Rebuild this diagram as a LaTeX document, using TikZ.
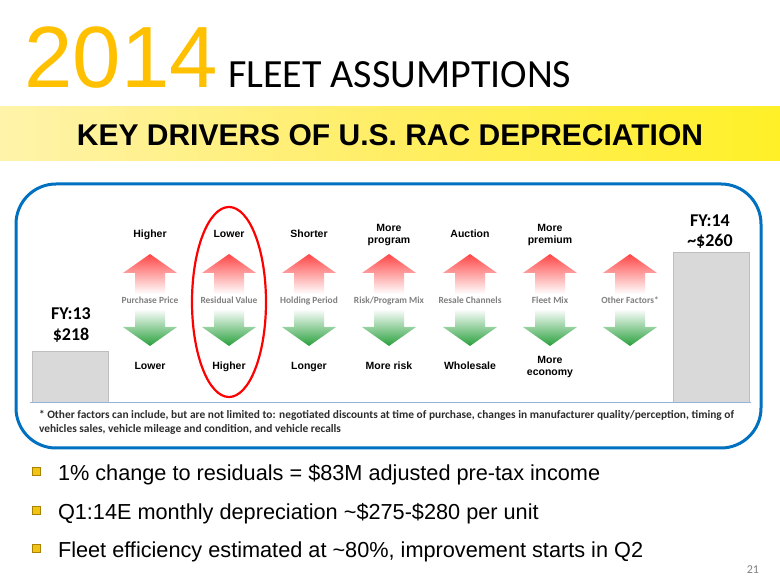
\documentclass[tikz,border=0pt]{standalone}
\usepackage{fontspec}
\setmainfont{Liberation Sans}
\newfontfamily\calfont{Carlito}
\usetikzlibrary{shapes.geometric,shadows}
\definecolor{gold}{RGB}{255,192,0}
\definecolor{panelblue}{RGB}{0,112,192}
\definecolor{bargray}{RGB}{217,217,217}
\definecolor{baredge}{RGB}{190,190,190}
\definecolor{sepline}{RGB}{149,179,215}
\definecolor{upred}{RGB}{255,70,70}
\definecolor{downgreen}{RGB}{40,160,60}
\definecolor{midgray}{RGB}{128,128,128}
\definecolor{notegray}{RGB}{45,45,45}
\definecolor{bandleft}{RGB}{255,243,170}
\definecolor{bandright}{RGB}{255,240,40}
\definecolor{bulletgold}{RGB}{240,196,20}
\definecolor{bulletedge}{RGB}{170,130,0}
\begin{document}
\begin{tikzpicture}[x=1pt,y=-1pt,
  txt/.style={inner sep=0pt,outer sep=0pt},
  colhead/.style={txt,align=center,font=\bfseries\fontsize{10.5}{12.5}\selectfont},
  colmid/.style={txt,anchor=base,font=\calfont\bfseries\fontsize{9.4}{11}\selectfont,text=midgray},
  fybar/.style={draw=baredge,fill=bargray,line width=0.6pt},
  fylabel/.style={txt,align=center,font=\calfont\bfseries\fontsize{18}{20.5}\selectfont},
  bullettxt/.style={txt,anchor=base west,font=\fontsize{21.7}{24}\selectfont},
  bulletbox/.style={draw=bulletedge,fill=bulletgold,line width=0.4pt,minimum size=8pt,inner sep=0pt,
    drop shadow={shadow xshift=1pt,shadow yshift=-1pt,opacity=0.5}},
  note/.style={txt,anchor=base west,font=\calfont\bfseries\fontsize{11.4}{13}\selectfont,text=notegray}]
\useasboundingbox (0,0) rectangle (780,585);
\fill[white] (0,0) rectangle (780,585);

% heading
\node[txt,anchor=base west,text=gold,font=\fontsize{87}{90}\selectfont] (year) at (24.5,88) {2014};
\node[txt,anchor=base west,font=\calfont\fontsize{40}{44}\selectfont] (fleet) at (228,88) {FLEET ASSUMPTIONS};

% yellow band
\shade[left color=bandleft,right color=bandright,middle color={rgb,255:red,255;green,238;blue,100}] (0,107) rectangle (780,161);
\node[txt,anchor=base,font=\bfseries\fontsize{30}{34}\selectfont] (band) at (390,146) {KEY DRIVERS OF U.S. RAC DEPRECIATION};

% panel
\node[draw=panelblue,line width=3pt,rounded corners=40pt,minimum width=745pt,minimum height=264pt,inner sep=0pt] (panel) at (388.5,316) {};

% bars
\node[fybar,minimum width=76pt,minimum height=51pt,inner sep=0pt] (bar13) at (70,376.5) {};
\node[fybar,minimum width=76pt,minimum height=150pt,inner sep=0pt] (bar14) at (711,327) {};
\node[fylabel] (lab13) at (71,325) {FY:13\\\$218};
\node[fylabel] (lab14) at (710,231.5) {FY:14\\\textasciitilde\$260};

% separator line
\coordinate (sepL) at (30,402);
\coordinate (sepR) at (751,402);
\draw[sepline,line width=0.8pt] (sepL) -- (sepR);

% arrows and middle labels
\foreach \cx/\mid [count=\i] in {150/Purchase Price,229/Residual Value,309/Holding Period,389/Risk\slash Program Mix,470/Resale Channels,550/Fleet Mix,630/Other Factors*}{
  \shade[top color=upred,bottom color=white]
    (\cx,254) -- (\cx+27,273) -- (\cx+15,273) -- (\cx+15,294) -- (\cx-15,294) -- (\cx-15,273) -- (\cx-27,273) -- cycle;
  \shade[top color=white,bottom color=downgreen]
    (\cx-15,309) -- (\cx+15,309) -- (\cx+15,327) -- (\cx+27,327) -- (\cx,346) -- (\cx-27,327) -- (\cx-15,327) -- cycle;
  \node[colmid] (mid\i) at (\cx,304) {\mid};
}

% top and bottom labels
\foreach \cx/\top/\bot [count=\i] in {150/\strut Higher/\strut Lower,229/\strut Lower/\strut Higher,309/\strut Shorter/\strut Longer,389/{\strut More\\\strut program}/\strut More risk,470/\strut Auction/\strut Wholesale,550/{\strut More\\\strut premium}/{\strut More\\\strut economy}}{
  \node[colhead] (top\i) at (\cx,235.25) {\top};
  \node[colhead] (bot\i) at (\cx,367.25) {\bot};
}

% highlight ellipse
\node[ellipse,draw=red,line width=2.2pt,minimum width=74pt,minimum height=190pt,inner sep=0pt] (resid) at (229,302) {};

% footnote
\node[note] (note1) at (39,419) {* Other factors can include, but are not limited to: negotiated discounts at time of purchase, changes in manufacturer quality/perception, timing of};
\node[note] (note2) at (39,432.5) {vehicles sales, vehicle mileage and condition, and vehicle recalls};

% bullets
\node[bulletbox] (b1) at (36,471) {};
\node[bulletbox] (b2) at (36,510) {};
\node[bulletbox] (b3) at (36,548) {};
\node[bullettxt] (t1) at (58,481) {1\% change to residuals = \$83M adjusted pre-tax income};
\node[bullettxt] (t2) at (58,519) {Q1:14E monthly depreciation \textasciitilde\$275-\$280 per unit};
\node[bullettxt] (t3) at (58,557) {Fleet efficiency estimated at \textasciitilde80\%, improvement starts in Q2};

% page number
\node[txt,anchor=base east,font=\calfont\fontsize{12}{14}\selectfont,text=midgray] (page) at (759,573) {21};
\end{tikzpicture}
\end{document}
